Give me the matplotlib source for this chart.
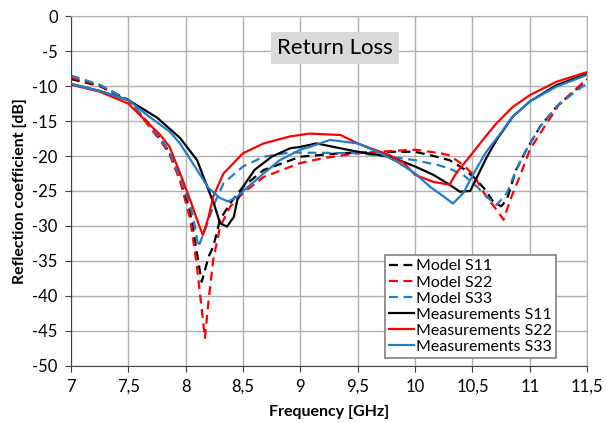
import numpy as np
import matplotlib.pyplot as plt
from matplotlib.ticker import FuncFormatter

plt.rcParams['font.family'] = ['Lato', 'DejaVu Sans']
plt.rcParams['axes.unicode_minus'] = False

# Model S11 (black dashed)
f_m11 = [7.0, 7.25, 7.5, 7.66, 7.78, 7.86, 7.95, 8.04, 8.1, 8.14, 8.2, 8.24, 8.3, 8.39, 8.5,
         8.68, 9.0, 9.35, 9.78, 10.0, 10.16, 10.3, 10.42, 10.51, 10.6, 10.68, 10.75, 10.8,
         10.88, 10.97, 11.09, 11.23, 11.38, 11.5]
s_m11 = [-9.0, -10.0, -12.0, -15.0, -17.5, -19.5, -23.0, -28.0, -34.0, -38.0, -34.4, -33.0,
         -29.1, -26.7, -24.4, -22.0, -20.1, -19.6, -19.4, -19.4, -20.0, -20.6, -21.8, -23.0,
         -24.6, -26.5, -27.2, -26.2, -22.0, -19.1, -15.8, -13.0, -10.8, -9.1]

# Model S22 (red dashed)
f_m22 = [7.0, 7.25, 7.5, 7.66, 7.78, 7.86, 7.95, 8.04, 8.1, 8.168, 8.2, 8.24, 8.3, 8.39, 8.5,
         8.68, 9.0, 9.2, 9.5, 9.78, 10.0, 10.22, 10.3, 10.42, 10.51, 10.6, 10.71, 10.77, 10.84,
         10.91, 11.0, 11.12, 11.26, 11.38, 11.5]
s_m22 = [-8.8, -9.9, -12.0, -15.3, -17.8, -19.8, -23.5, -29.0, -36.0, -46.0, -40.6, -34.9,
         -30.1, -27.2, -25.3, -23.0, -21.0, -20.3, -19.6, -19.3, -19.1, -19.6, -19.9, -21.3,
         -22.7, -25.3, -27.7, -29.1, -25.8, -23.0, -19.1, -16.0, -12.5, -10.8, -8.9]

# Model S33 (blue dashed)
f_m33 = [7.0, 7.25, 7.5, 7.66, 7.78, 7.86, 7.95, 8.04, 8.08, 8.11, 8.18, 8.24, 8.33, 8.5,
         8.68, 8.91, 9.5, 9.78, 10.0, 10.2, 10.3, 10.42, 10.54, 10.62, 10.71, 10.8, 10.88,
         10.97, 11.09, 11.23, 11.38, 11.5]
s_m33 = [-8.5, -9.8, -12.0, -15.0, -17.5, -19.5, -23.0, -27.0, -30.0, -33.0, -30.1, -27.2,
         -23.9, -21.5, -20.1, -19.5, -19.6, -20.1, -20.6, -21.3, -21.8, -22.7, -24.4, -25.8,
         -27.0, -25.3, -22.0, -19.1, -15.8, -13.0, -11.0, -9.6]

# Measurements S11 (black solid)
f_s11 = [7.0, 7.25, 7.5, 7.75, 7.95, 8.1, 8.2, 8.25, 8.3, 8.36, 8.42, 8.45, 8.5, 8.6, 8.75,
         8.91, 9.0, 9.14, 9.5, 9.78, 10.0, 10.16, 10.3, 10.39, 10.48, 10.54, 10.62, 10.71,
         10.85, 11.0, 11.23, 11.5]
s_s11 = [-9.7, -10.7, -12.0, -14.5, -17.4, -20.6, -24.9, -27.0, -29.6, -30.1, -28.7, -26.3,
         -24.4, -22.0, -20.1, -18.9, -18.7, -18.2, -19.4, -20.1, -21.5, -22.7, -24.1, -25.1,
         -25.0, -23.0, -20.3, -17.7, -14.4, -12.2, -9.9, -8.2]

# Measurements S22 (red solid)
f_s22 = [7.0, 7.25, 7.5, 7.66, 7.78, 7.86, 7.95, 8.04, 8.11, 8.15, 8.2, 8.24, 8.33, 8.5,
         8.68, 8.91, 9.08, 9.35, 9.5, 9.63, 9.78, 9.9, 10.0, 10.16, 10.3, 10.36, 10.48, 10.6,
         10.71, 10.85, 11.0, 11.23, 11.5]
s_s22 = [-9.8, -10.8, -12.5, -15.1, -17.0, -18.7, -22.4, -26.3, -29.6, -31.3, -28.7, -25.8,
         -22.5, -19.6, -18.2, -17.2, -16.8, -17.0, -18.2, -19.0, -19.9, -21.0, -22.7, -23.7,
         -24.1, -22.4, -20.0, -17.5, -15.3, -13.0, -11.3, -9.4, -8.0]

# Measurements S33 (blue solid)
f_s33 = [7.0, 7.25, 7.5, 7.66, 7.86, 7.95, 8.1, 8.2, 8.3, 8.37, 8.45, 8.53, 8.68, 8.82, 9.0,
         9.08, 9.26, 9.5, 9.67, 9.84, 10.0, 10.13, 10.25, 10.33, 10.42, 10.51, 10.62, 10.71,
         10.85, 11.0, 11.23, 11.5]
s_s33 = [-9.7, -10.7, -12.0, -14.1, -16.5, -18.2, -22.0, -24.6, -26.0, -26.5, -25.8, -24.6,
         -22.5, -20.6, -19.1, -18.7, -17.7, -18.2, -19.4, -20.8, -22.5, -24.4, -25.8, -26.8,
         -25.3, -22.5, -19.4, -17.5, -14.4, -12.2, -10.1, -8.4]

BLUE = '#1f7fc8'
RED = '#ff0000'

fig = plt.figure(figsize=(6.06, 4.23), dpi=100)
ax = fig.add_axes([0.117, 0.135, 0.852, 0.827])

dash = (0, (4, 2.5))
ax.plot(f_m11, s_m11, color='black', lw=1.6, ls=dash, label='Model S11')
ax.plot(f_m22, s_m22, color=RED, lw=1.6, ls=dash, label='Model S22')
ax.plot(f_m33, s_m33, color=BLUE, lw=1.6, ls=dash, label='Model S33')
ax.plot(f_s11, s_s11, color='black', lw=1.6, label='Measurements S11')
ax.plot(f_s22, s_s22, color=RED, lw=1.6, label='Measurements S22')
ax.plot(f_s33, s_s33, color=BLUE, lw=1.6, label='Measurements S33')

ax.set_xlim(7, 11.5)
ax.set_ylim(-50, 0)
ax.set_xticks(np.arange(7, 11.51, 0.5))
ax.set_yticks(np.arange(-50, 0.1, 5))
ax.xaxis.set_major_formatter(FuncFormatter(lambda v, p: ('%g' % v).replace('.', ',')))
ax.grid(True, color='#b0b0b0', lw=1)
ax.set_axisbelow(True)
for s in ['top', 'right']:
    ax.spines[s].set_color('#b0b0b0')
for s in ['left', 'bottom']:
    ax.spines[s].set_color('#404040')
ax.tick_params(direction='out', length=4.5, labelsize=12, color='#404040', pad=5)

ax.set_xlabel('Frequency [GHz]', fontsize=11.5, fontweight='bold', labelpad=7)
ax.set_ylabel('Reflection coefficient [dB]', fontsize=11.5, fontweight='bold', labelpad=4)

ax.text(9.3, -4.6, 'Return Loss', fontsize=16, ha='center', va='center',
        bbox=dict(facecolor='#d9d9d9', edgecolor='none', pad=4.5))

leg = ax.legend(loc='lower right', bbox_to_anchor=(0.955, -0.0), fontsize=11.5,
                handlelength=1.6, handletextpad=0.1, borderpad=0.25, labelspacing=0.12,
                fancybox=False, framealpha=1, edgecolor='#808080')
leg.get_frame().set_linewidth(1.2)

fig.savefig('out.png', dpi=100)
